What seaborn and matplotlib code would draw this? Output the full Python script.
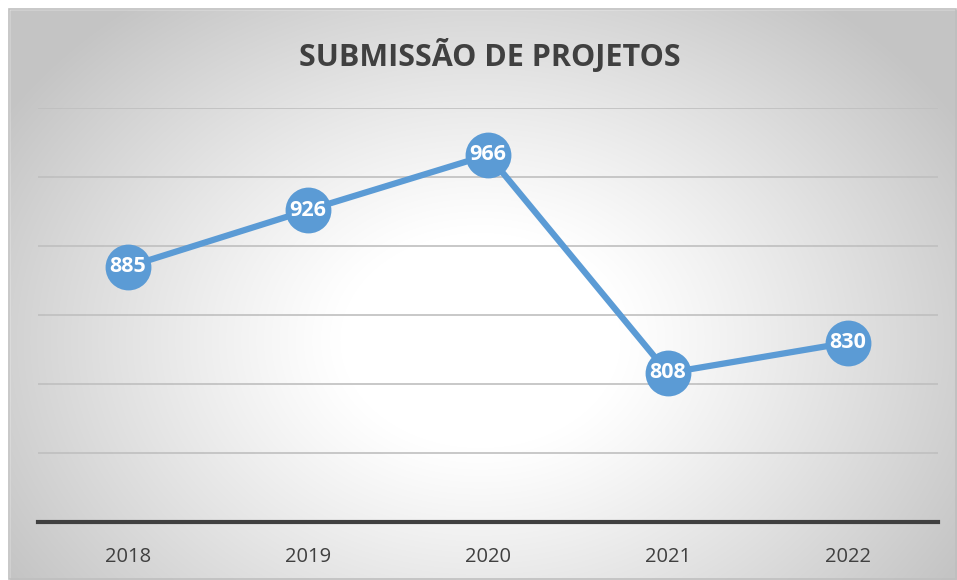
import numpy as np
import pandas as pd
import matplotlib
matplotlib.use("Agg")
import matplotlib.pyplot as plt
import seaborn as sns
from matplotlib.patches import Rectangle

years = ["2018", "2019", "2020", "2021", "2022"]
submissions = [885, 926, 966, 808, 830]
title = "SUBMISSÃO DE PROJETOS"

sns.set_theme(style="white")
plt.rcParams['font.family'] = ['Open Sans', 'DejaVu Sans']

W, H = 957, 580
fig = plt.figure(figsize=(W / 100, H / 100), dpi=100)

# radial gradient background
bg = fig.add_axes([0, 0, 1, 1], zorder=0)
yy, xx = np.mgrid[0:H, 0:W]
cx, cy = 480, 340
r = np.sqrt(((xx - cx) / 560.0) ** 2 + ((yy - cy) / 430.0) ** 2)
t = np.clip((r - 0.25) / 0.75, 0, 1)
shade = 1.0 - 0.23 * t ** 1.1
img = np.dstack([shade, shade, shade])
bg.imshow(img, extent=[0, W, H, 0], aspect='auto')
bg.set_xlim(0, W)
bg.set_ylim(H, 0)
bg.axis('off')
# white margin outside the chart frame
bg.add_patch(Rectangle((0, 0), W, 9, color='white', zorder=2))
bg.add_patch(Rectangle((0, 0), 9, H, color='white', zorder=2))
bg.add_patch(Rectangle((9, 9), W - 10, H - 10, fill=False, edgecolor='#bfbfbf', lw=1.2, zorder=3))

ax = fig.add_axes([38 / W, 58 / H, 900 / W, 414 / H], zorder=1)
ax.patch.set_alpha(0)

df = pd.DataFrame({"year": years, "value": submissions})
sns.lineplot(data=df, x="year", y="value", ax=ax, color="#5B9BD5", lw=4.5,
             marker="o", markersize=33, markeredgewidth=0, sort=False, zorder=3)

for i, v in enumerate(submissions):
    ax.text(i, v, str(v), ha='center', va='center', color='white',
            fontsize=15.5, fontweight='bold', zorder=4)

ax.set_xlim(-0.5, len(years) - 0.5)
ax.set_ylim(700, 1000)
ax.set_yticks([750, 800, 850, 900, 950, 1000])
ax.set_yticklabels([])
ax.tick_params(axis='y', length=0)
ax.yaxis.grid(True, color='#bfbfbf', lw=1.2)
ax.xaxis.grid(False)
ax.set_axisbelow(True)
for s in ['top', 'right', 'left']:
    ax.spines[s].set_visible(False)
ax.spines['bottom'].set_color('#404040')
ax.spines['bottom'].set_linewidth(3)
ax.tick_params(axis='x', length=0, labelsize=14.5, labelcolor='#404040', pad=18)
ax.set_xlabel("")
ax.set_ylabel("")

fig.text(490 / W, 1 - 56 / H, title, ha='center', va='center', fontsize=22,
         fontweight='bold', color='#404040')

fig.savefig("out.png", dpi=100)
